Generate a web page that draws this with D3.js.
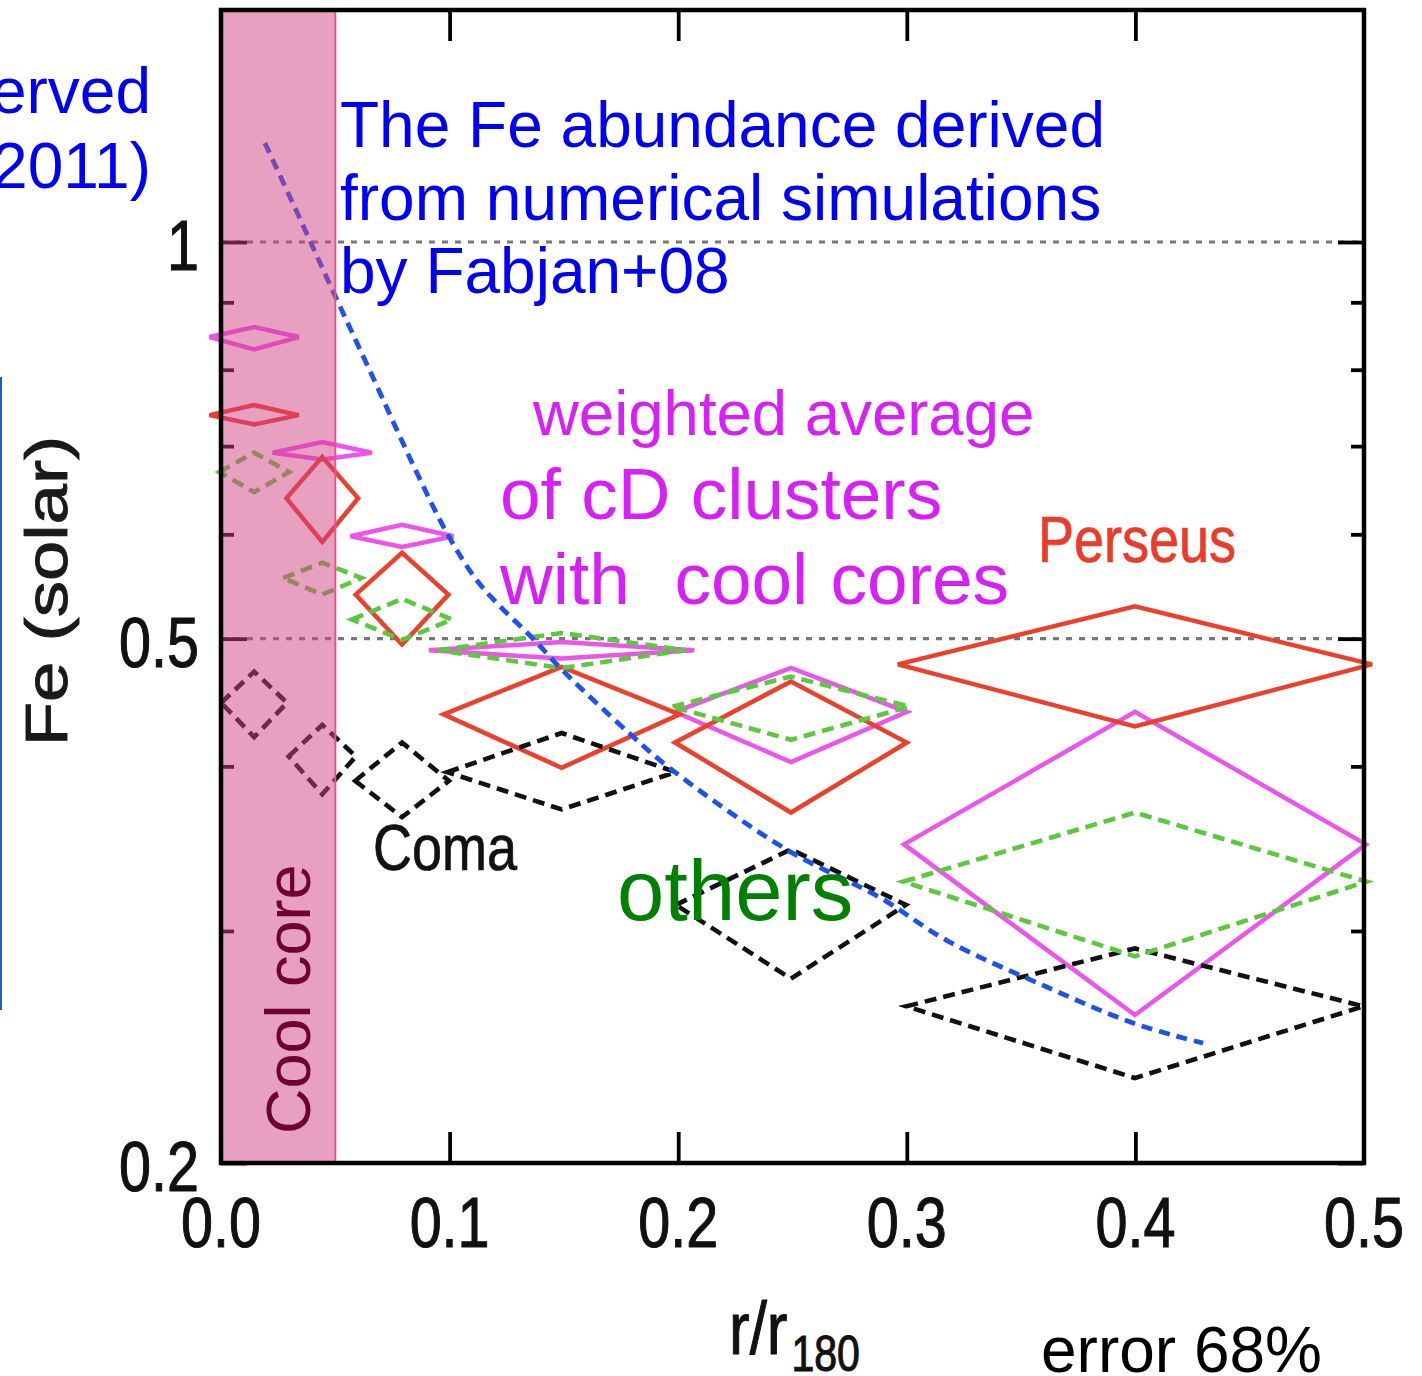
<!DOCTYPE html>
<html><head><meta charset="utf-8">
<script src="https://cdn.jsdelivr.net/npm/d3@7"></script>
<style>
html,body{margin:0;padding:0;background:#fff;overflow:hidden}
svg{display:block}
text{font-family:"Liberation Sans",Arial,Helvetica,sans-serif}
</style></head><body>
<svg id="chart" width="1422" height="1376"></svg>
<script>
// Radial bin centres (r/r180) of the observed Fe profiles
const binR = [0.0145, 0.0443, 0.0792, 0.1490, 0.2493, 0.3998];

// Weighted average of cD clusters with cool cores
const cdFe   = [0.847, 0.692, 0.598, 0.490, 0.440, 0.349];
const cdLo   = [0.829, 0.684, 0.587, 0.483, 0.403, 0.259];
const cdHi   = [0.862, 0.705, 0.610, 0.497, 0.475, 0.440];
const cdRErr = [0.0195, 0.0217, 0.0225, 0.0580, 0.0507, 0.1010];

// Perseus
const perFe   = [0.739, 0.639, 0.540, 0.438, 0.417, 0.478];
const perLo   = [0.727, 0.592, 0.495, 0.399, 0.369, 0.429];
const perHi   = [0.752, 0.687, 0.581, 0.476, 0.464, 0.529];
const perRErr = [0.0195, 0.0157, 0.0203, 0.0516, 0.0507, 0.1037];

// Other clusters
const othFe   = [0.669, 0.556, 0.517, 0.490, 0.444, 0.327];
const othLo   = [0.646, 0.540, 0.499, 0.475, 0.419, 0.287];
const othHi   = [0.692, 0.571, 0.536, 0.505, 0.468, 0.369];
const othRErr = [0.0153, 0.0171, 0.0219, 0.0540, 0.0518, 0.1013];

// Coma
const comaFe   = [0.447, 0.407, 0.390, 0.396, 0.314, 0.263];
const comaLo   = [0.421, 0.381, 0.366, 0.371, 0.276, 0.232];
const comaHi   = [0.472, 0.430, 0.417, 0.424, 0.346, 0.291];
const comaRErr = [0.0144, 0.0147, 0.0205, 0.0500, 0.0503, 0.1000];

// Simulated Fe profile (Fabjan+08)
const simR  = [0.0192, 0.0346, 0.0477, 0.0652, 0.0857, 0.0989, 0.1111, 0.1207, 0.1360,
               0.1500, 0.1785, 0.1969, 0.2472, 0.2883, 0.3176, 0.3613, 0.3990, 0.4296];
const simFe = [1.189, 1.041, 0.928, 0.798, 0.668, 0.601, 0.556, 0.532, 0.501,
               0.472, 0.424, 0.398, 0.346, 0.318, 0.295, 0.272, 0.2554, 0.2466];

// Axis ticks
const xTicks = [0.0, 0.1, 0.2, 0.3, 0.4, 0.5];
const yMajor = [0.2, 0.5, 1];
const yMinor = [0.3, 0.4, 0.6, 0.7, 0.8, 0.9];
const yLabels = ["0.2", "0.5", "1"];
const coreEdge = 0.05;

const svg = d3.select("#chart");
const L = 221, R = 1364, T = 10, B = 1163;
const x = d3.scaleLinear().domain([0, 0.5]).range([L, R]);
const y = d3.scaleLog().domain([0.2, 1.5]).range([B, T]);

// reference lines at 1 and 0.5 solar
svg.append("g").selectAll("line").data([1, 0.5]).join("line")
  .attr("x1", L).attr("x2", R)
  .attr("y1", d => y(d)).attr("y2", d => y(d))
  .attr("stroke", "#777").attr("stroke-width", 3.2)
  .attr("stroke-dasharray", "6,7");

// ticks (inward on all four sides)
function tickStyle(g) {
  g.select(".domain").remove();
  g.selectAll("line").attr("stroke", "#000").attr("stroke-width", 3.8);
}
const innerX = xTicks.filter(v => v > 0 && v < 0.5);
svg.append("g").attr("transform", `translate(0,${B})`)
  .call(d3.axisBottom(x).tickValues(innerX).tickSize(-31).tickFormat("")).call(tickStyle);
svg.append("g").attr("transform", `translate(0,${T})`)
  .call(d3.axisTop(x).tickValues(innerX).tickSize(-31).tickFormat("")).call(tickStyle);
svg.append("g").attr("transform", `translate(${L},0)`)
  .call(d3.axisLeft(y).tickValues(yMajor).tickSize(-26).tickFormat("")).call(tickStyle);
svg.append("g").attr("transform", `translate(${L},0)`)
  .call(d3.axisLeft(y).tickValues(yMinor).tickSize(-13).tickFormat("")).call(tickStyle);
svg.append("g").attr("transform", `translate(${R},0)`)
  .call(d3.axisRight(y).tickValues(yMajor).tickSize(-26).tickFormat("")).call(tickStyle);
svg.append("g").attr("transform", `translate(${R},0)`)
  .call(d3.axisRight(y).tickValues(yMinor).tickSize(-13).tickFormat("")).call(tickStyle);

// diamond markers: horizontal extent = radial bin, vertical = 68% error
function diamonds(fe, lo, hi, rErr, color, dash, width) {
  const pts = binR.map((r, i) => [
    [x(r - rErr[i]), y(fe[i])], [x(r), y(hi[i])],
    [x(r + rErr[i]), y(fe[i])], [x(r), y(lo[i])]
  ]);
  svg.append("g").selectAll("polygon").data(pts).join("polygon")
    .attr("points", d => d.map(p => p.join(",")).join(" "))
    .attr("fill", "none").attr("stroke", color).attr("stroke-width", width)
    .attr("stroke-linejoin", "miter")
    .attr("stroke-dasharray", dash);
}
diamonds(cdFe, cdLo, cdHi, cdRErr, "#ec55ec", null, 4.5);
diamonds(perFe, perLo, perHi, perRErr, "#ea402c", null, 4.5);
diamonds(comaFe, comaLo, comaHi, comaRErr, "#111", "12,7", 4.6);
diamonds(othFe, othLo, othHi, othRErr, "#5cc83e", "12,7", 4.6);

// simulated profile
svg.append("path")
  .datum(simR.map((r, i) => [r, simFe[i]]))
  .attr("d", d3.line().x(d => x(d[0])).y(d => y(d[1])).curve(d3.curveCatmullRom))
  .attr("fill", "none").attr("stroke", "#1e52ec").attr("stroke-width", 4.8)
  .attr("stroke-dasharray", "11,7");

// cool core region
svg.append("rect")
  .attr("x", x(0) + 1).attr("y", T + 1)
  .attr("width", x(coreEdge) - x(0) - 1).attr("height", B - T - 1)
  .attr("fill", "rgb(209,65,129)").attr("fill-opacity", 0.5)
  .attr("stroke", "#f0508c").attr("stroke-width", 2);

// frame
svg.append("rect").attr("x", L).attr("y", T).attr("width", R - L).attr("height", B - T)
  .attr("fill", "none").attr("stroke", "#000").attr("stroke-width", 4.5);

// text in the stretched plot font
function stretched(str, tx, ty, size, opts = {}) {
  const g = svg.append("g")
    .attr("transform", `translate(${tx},${ty})` + (opts.rotate ? ` rotate(${opts.rotate})` : "") +
      ` scale(${opts.sx || 1},${opts.sy || 1})`);
  const col = opts.color || "#111";
  return g.append("text").attr("x", 0).attr("y", 0)
    .attr("font-size", size).attr("text-anchor", opts.anchor || "start")
    .attr("fill", col).attr("stroke", col).attr("stroke-width", opts.bold || 0.9)
    .text(str);
}

// tick labels
xTicks.forEach(v => stretched(v.toFixed(1), x(v), 1247, 57.5, {sy: 1.21, anchor: "middle"}));
yMajor.forEach((v, i) => stretched(yLabels[i], 199, y(v) + 28, 57.5, {sy: 1.21, anchor: "end"}));

// axis titles
stretched("Fe (solar)", 67, 591, 60, {rotate: -90, sx: 1.21, anchor: "middle", color: "#1a1a1a"});
const xt = stretched("r/r", 729, 1354, 62, {sy: 1.21, color: "#111"});
xt.append("tspan").attr("font-size", 41).attr("dx", 4).attr("dy", 14).text("180");

// series labels in the plot font
stretched("Perseus", 1038, 562, 54, {sy: 1.21, color: "#ea3c28", bold: 0.6});
stretched("Coma", 373, 870, 54, {sy: 1.21, color: "#111", bold: 0.6});

// "Cool core" marker
svg.append("text")
  .attr("transform", `translate(310,1134) rotate(-90)`)
  .attr("font-size", 63).attr("fill", "#6e0032").text("Cool core");

// annotations
const blue = "#0000f5";
[["Observed", 113], ["(Matsushita 2011)", 188]].forEach(([s, by]) =>
  svg.append("text").attr("x", 151).attr("y", by).attr("text-anchor", "end")
    .attr("font-size", 64).attr("fill", blue).text(s));
[["The Fe abundance derived", 147], ["from numerical simulations", 220], ["by Fabjan+08", 293]]
  .forEach(([s, by]) => svg.append("text").attr("x", 340).attr("y", by)
    .attr("font-size", 64).attr("fill", blue).text(s));

const violet = "#d71ff8";
svg.append("text").attr("x", 533).attr("y", 435).attr("font-size", 63.5)
  .attr("fill", violet).text("weighted average");
svg.append("text").attr("x", 500).attr("y", 519).attr("font-size", 73)
  .attr("fill", violet).text("of cD clusters");
svg.append("text").attr("x", 500).attr("y", 604).attr("font-size", 73)
  .attr("fill", violet).style("white-space", "pre").attr("word-spacing", 2)
  .text("with  cool cores");

svg.append("text").attr("x", 617).attr("y", 920).attr("font-size", 85)
  .attr("fill", "#008000").text("others");

svg.append("text").attr("x", 1041).attr("y", 1372).attr("font-size", 64)
  .attr("fill", "#000").text("error 68%");

// edge of the neighbouring panel box
svg.append("line").attr("x1", 0.5).attr("x2", 0.5).attr("y1", 377).attr("y2", 1010)
  .attr("stroke", "#1a5cc8").attr("stroke-width", 3);
</script>
</body></html>
